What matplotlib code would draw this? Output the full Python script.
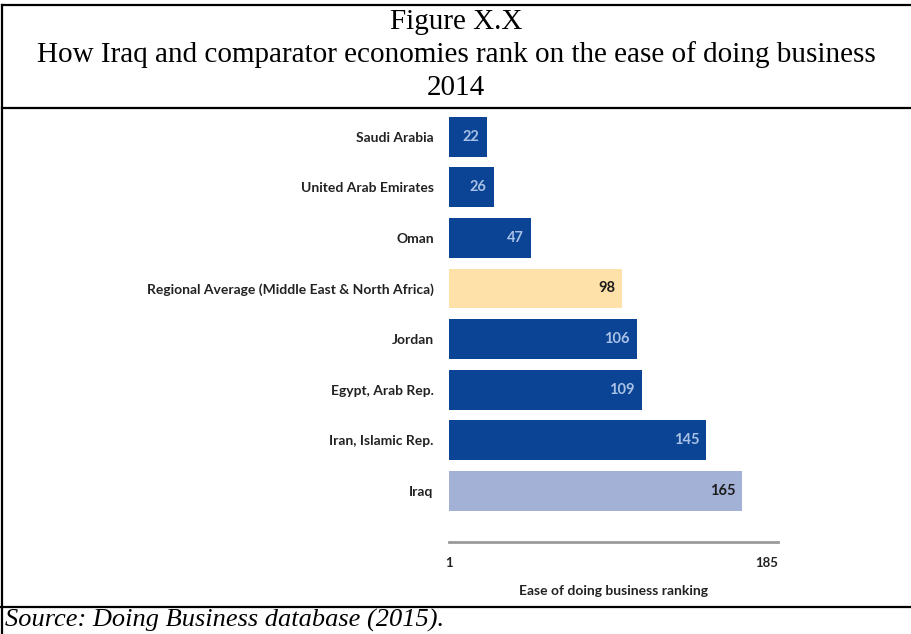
import matplotlib
matplotlib.use("Agg")
from matplotlib import pyplot as plt
from matplotlib.lines import Line2D

countries = ["Saudi Arabia", "United Arab Emirates", "Oman",
             "Regional Average (Middle East & North Africa)",
             "Jordan", "Egypt, Arab Rep.", "Iran, Islamic Rep.", "Iraq"]
ranks = [22, 26, 47, 98, 106, 109, 145, 165]
bar_colors = ["#0b4494", "#0b4494", "#0b4494", "#fde1a8",
              "#0b4494", "#0b4494", "#0b4494", "#a3b1d7"]
text_colors = ["#a9c1e6", "#a9c1e6", "#a9c1e6", "#1c1c1c",
               "#a9c1e6", "#a9c1e6", "#a9c1e6", "#1c1c1c"]
x_ticks = [1, 185]

fig = plt.figure(figsize=(9.12, 6.34), dpi=100)
ax = fig.add_axes([449/912, 0.1451, (778-449)/912, 0.6792])

y = list(range(len(countries)))
ax.barh(y, [r - 1 for r in ranks], left=1, height=0.79, color=bar_colors)
for i, r in enumerate(ranks):
	ax.text(r - 4, i, str(r), ha="right", va="center", color=text_colors[i],
	        fontsize=10.5, fontweight="bold", family="Lato")

ax.set_xlim(1, 185)
ax.set_ylim(8.01, -0.5)
ax.set_yticks(y)
ax.set_yticklabels(countries, fontsize=10, fontweight="bold", family="Lato", color="#222222")
ax.set_xticks(x_ticks)
xt = ax.set_xticklabels([str(t) for t in x_ticks], fontsize=9.5, fontweight="bold",
                        family="Lato", color="#222222")
xt[-1].set_ha("right")
ax.tick_params(axis="y", length=0, pad=11)
ax.tick_params(axis="x", length=0, pad=11)
ax.set_xlabel("Ease of doing business ranking", fontsize=10, fontweight="bold",
              family="Lato", color="#222222", labelpad=11.5)
for s in ["top", "right", "left"]:
	ax.spines[s].set_visible(False)
ax.spines["bottom"].set_color("#9a9a9a")
ax.spines["bottom"].set_linewidth(2)

# frame lines
lw = 1.6
fig.add_artist(Line2D([2/912, 1], [1-5/634, 1-5/634], color="black", lw=lw))
fig.add_artist(Line2D([2/912, 2/912], [0, 1-5/634], color="black", lw=lw))
fig.add_artist(Line2D([2/912, 1], [1-108/634, 1-108/634], color="black", lw=lw))
fig.add_artist(Line2D([0, 1], [1-607/634, 1-607/634], color="black", lw=lw))

serif = "Liberation Serif"
fig.text(0.5, 1-29/634, "Figure X.X", ha="center", va="baseline", fontsize=21, family=serif)
fig.text(0.5, 1-62/634, "How Iraq and comparator economies rank on the ease of doing business",
         ha="center", va="baseline", fontsize=21, family=serif)
fig.text(0.5, 1-95/634, "2014", ha="center", va="baseline", fontsize=21, family=serif)
fig.text(5/912, 1-627/634, "Source: Doing Business database (2015).", ha="left", va="baseline",
         fontsize=19, family=serif, style="italic")

fig.savefig("out.png", dpi=100)
